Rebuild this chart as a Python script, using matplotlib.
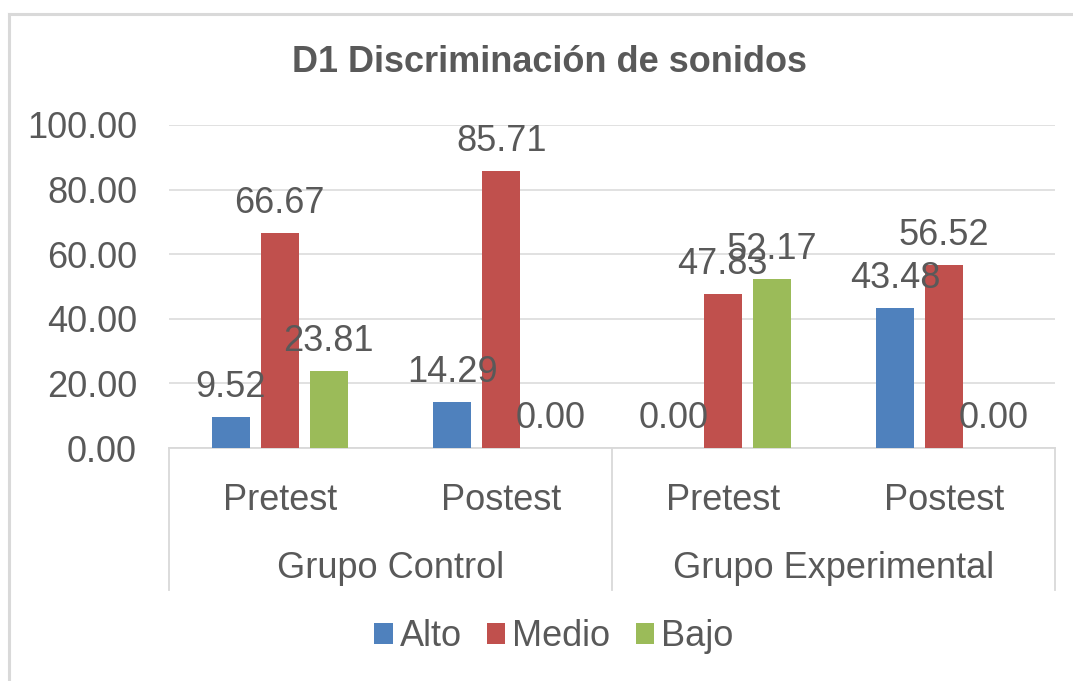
"""D1 Discriminación de sonidos - grouped bar chart (Excel style)."""

import matplotlib

matplotlib.use("Agg")
import matplotlib.pyplot as plt
import numpy as np
from matplotlib.lines import Line2D
from matplotlib.patches import Patch

W, H = 1073, 681

groups = ["Grupo Control", "Grupo Experimental"]
tests = ["Pretest", "Postest", "Pretest", "Postest"]
series = ["Alto", "Medio", "Bajo"]
alto = [9.52, 14.29, 0.00, 43.48]
medio = [66.67, 85.71, 47.83, 56.52]
bajo = [23.81, 0.00, 52.17, 0.00]

COLORS = ["#4F81BD", "#C0504D", "#9BBB59"]
TEXT = "#595959"
GRID = "#D9D9D9"
FS = 26

plt.rcParams["font.family"] = ["Liberation Sans Narrow", "Liberation Sans", "DejaVu Sans"]

fig = plt.figure(figsize=(W / 100, H / 100), dpi=100)
fig.patch.set_facecolor("white")

# outer chart border (only top and left visible in the crop)
fig.add_artist(Line2D([9 / W, 9 / W], [0, 1 - 14 / H], transform=fig.transFigure,
                      color=GRID, lw=2.2))
fig.add_artist(Line2D([9 / W, 1], [1 - 14 / H, 1 - 14 / H], transform=fig.transFigure,
                      color=GRID, lw=2.2))

# plot area: x 169..1055 px, y 125..448 px
ax = fig.add_axes([169 / W, (H - 448) / H, 886 / W, 323 / H])

x = np.arange(len(tests))
step, width = 0.221, 0.172
for i, (vals, color) in enumerate(zip([alto, medio, bajo], COLORS)):
    bars = ax.bar(x + (i - 1) * step, vals, width, color=color, zorder=3)
    for b, v in zip(bars, vals):
        ax.annotate(f"{v:.2f}", (b.get_x() + b.get_width() / 2, b.get_height()),
                    xytext=(0, 14.4), textcoords="offset points",
                    ha="center", va="baseline", fontsize=FS, color=TEXT,
                    annotation_clip=False, zorder=4)

ax.set_xlim(-0.5, 3.5)
ax.set_ylim(0, 100)
ax.set_yticks(np.arange(0, 101, 20))
ax.set_yticklabels([f"{t:.2f}" for t in np.arange(0, 101, 20)])
ax.tick_params(axis="y", length=0, pad=23, labelsize=FS, labelcolor=TEXT)
ax.set_xticks([])
ax.grid(axis="y", color=GRID, lw=1.1, zorder=0)
for side in ["top", "right", "left"]:
    ax.spines[side].set_visible(False)
ax.spines["bottom"].set_color(GRID)
ax.spines["bottom"].set_linewidth(1.3)

# two-level category axis
tr = ax.get_xaxis_transform()
for xs in [-0.5, 1.5, 3.5]:
    ax.add_line(Line2D([xs, xs], [0, -142 / 323], transform=tr, color=GRID,
                       lw=1.3, clip_on=False))
for xi, lab in zip(x, tests):
    ax.text(xi, -62 / 323, lab, transform=tr, ha="center", va="baseline",
            fontsize=FS, color=TEXT)
for gi, lab in enumerate(groups):
    ax.text(0.5 + 2 * gi, -130 / 323, lab, transform=tr, ha="center",
            va="baseline", fontsize=FS, color=TEXT)

fig.text(550 / W, 1 - 62 / H, "D1 Discriminación de sonidos", ha="center",
         va="center", fontsize=FS, fontweight="bold", color=TEXT)

handles = [Patch(facecolor=c, edgecolor="none") for c in COLORS]
leg = fig.legend(handles, series, loc="center", bbox_to_anchor=(554 / W, 1 - 637 / H),
                 ncol=3, frameon=False, fontsize=FS, handlelength=0.5,
                 handleheight=0.5, handletextpad=0.2, columnspacing=0.7,
                 borderpad=0, borderaxespad=0)
for t in leg.get_texts():
    t.set_color(TEXT)

fig.savefig("out.png", dpi=100)
